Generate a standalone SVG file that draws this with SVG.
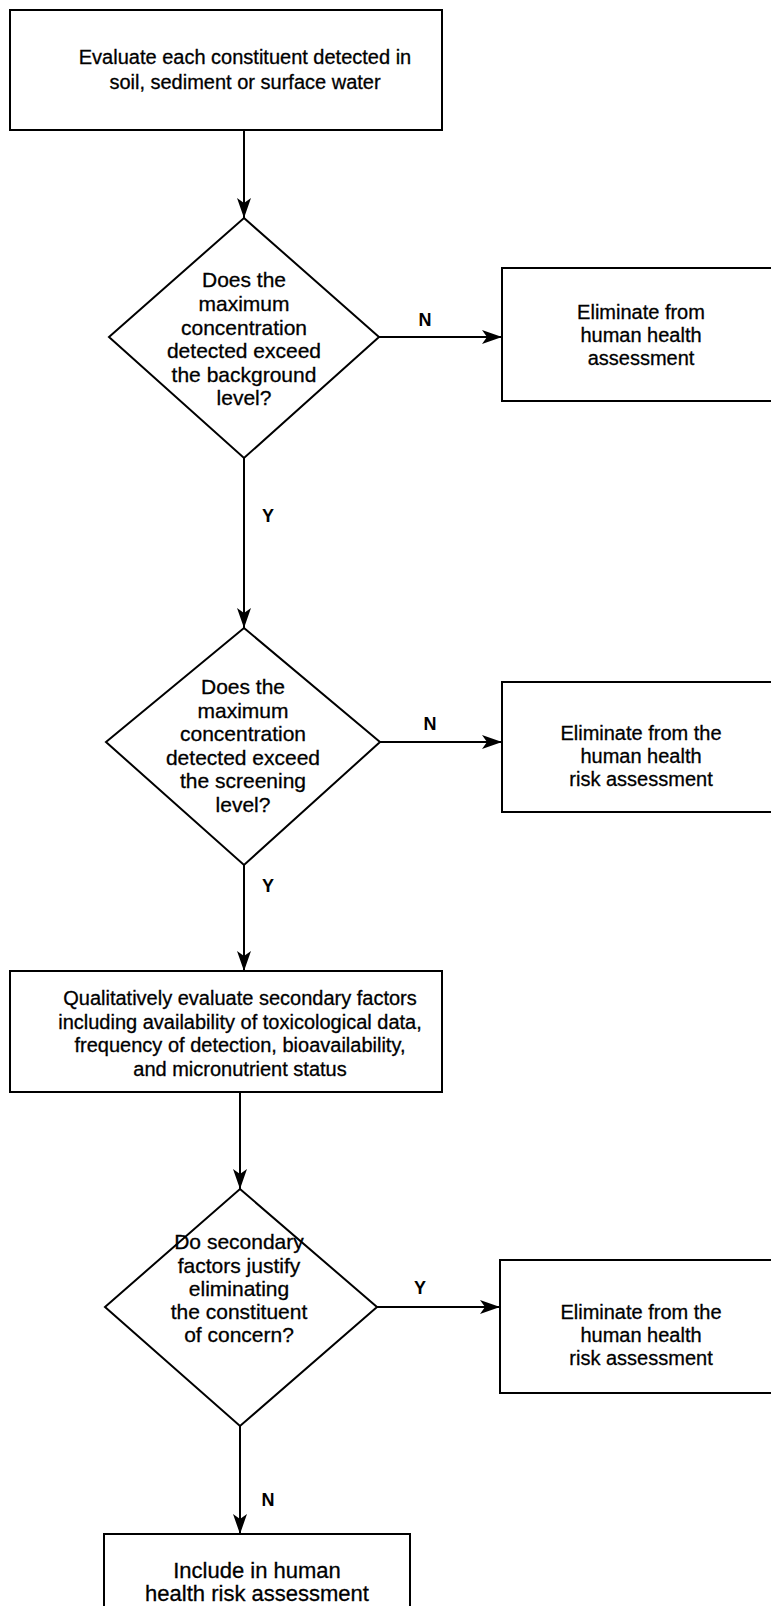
<svg xmlns="http://www.w3.org/2000/svg" width="771" height="1606" viewBox="0 0 771 1606">
<style>
.box{fill:#fff;stroke:#000;stroke-width:2}
.t{font-family:"Liberation Sans",Arial,sans-serif;font-size:20px;fill:#000;stroke:#000;stroke-width:0.3;text-anchor:middle}
.d{font-size:21px}
.lbl{font-family:"Liberation Sans",Arial,sans-serif;font-size:18px;font-weight:bold;fill:#000;text-anchor:middle}
.ln{fill:none;stroke:#000;stroke-width:2}
</style>
<defs>
<marker id="ah" markerUnits="userSpaceOnUse" markerWidth="22" markerHeight="16" refX="20" refY="8" orient="auto">
<path d="M20,8 L0,1 L5,8 L0,15 Z" fill="#000"/>
</marker>
</defs>
<rect width="771" height="1606" fill="#fff"/>
<g id="connectors">
<line class="ln" x1="244" y1="130" x2="244" y2="218" marker-end="url(#ah)"/>
<line class="ln" x1="379" y1="337" x2="502" y2="337" marker-end="url(#ah)"/>
<line class="ln" x1="244" y1="458" x2="244" y2="628" marker-end="url(#ah)"/>
<line class="ln" x1="380" y1="742" x2="502" y2="742" marker-end="url(#ah)"/>
<line class="ln" x1="244" y1="865" x2="244" y2="971" marker-end="url(#ah)"/>
<line class="ln" x1="240" y1="1092" x2="240" y2="1189" marker-end="url(#ah)"/>
<line class="ln" x1="377" y1="1307" x2="500" y2="1307" marker-end="url(#ah)"/>
<line class="ln" x1="240" y1="1426" x2="240" y2="1534" marker-end="url(#ah)"/>
<text class="lbl" x="425" y="326">N</text>
<text class="lbl" x="268" y="522">Y</text>
<text class="lbl" x="430" y="730">N</text>
<text class="lbl" x="268" y="892">Y</text>
<text class="lbl" x="420" y="1294">Y</text>
<text class="lbl" x="268" y="1506">N</text>
</g>
<g id="start">
<rect class="box" x="10" y="10" width="432" height="120"/>
<text class="t" x="245" y="64">Evaluate each constituent detected in</text>
<text class="t" x="245" y="89">soil, sediment or surface water</text>
</g>
<g id="decision1">
<polygon class="box" points="244,218 379,337 244,458 109,337"/>
<text class="t d" x="244" y="287">Does the</text>
<text class="t d" x="244" y="311">maximum</text>
<text class="t d" x="244" y="335">concentration</text>
<text class="t d" x="244" y="358">detected exceed</text>
<text class="t d" x="244" y="382">the background</text>
<text class="t d" x="244" y="405">level?</text>
</g>
<g id="eliminate1">
<path class="box" d="M771,268 H502 V401 H771"/>
<text class="t" x="641" y="319">Eliminate from</text>
<text class="t" x="641" y="342">human health</text>
<text class="t" x="641" y="365">assessment</text>
</g>
<g id="decision2">
<polygon class="box" points="244,628 380,742 244,865 106,742"/>
<text class="t d" x="243" y="694">Does the</text>
<text class="t d" x="243" y="718">maximum</text>
<text class="t d" x="243" y="741">concentration</text>
<text class="t d" x="243" y="765">detected exceed</text>
<text class="t d" x="243" y="788">the screening</text>
<text class="t d" x="243" y="812">level?</text>
</g>
<g id="eliminate2">
<path class="box" d="M771,682 H502 V812 H771"/>
<text class="t" x="641" y="740">Eliminate from the</text>
<text class="t" x="641" y="763">human health</text>
<text class="t" x="641" y="786">risk assessment</text>
</g>
<g id="secondary">
<rect class="box" x="10" y="971" width="432" height="121"/>
<text class="t" x="240" y="1005">Qualitatively evaluate secondary factors</text>
<text class="t" x="240" y="1029">including availability of toxicological data,</text>
<text class="t" x="240" y="1052">frequency of detection, bioavailability,</text>
<text class="t" x="240" y="1076">and micronutrient status</text>
</g>
<g id="decision3">
<polygon class="box" points="240,1189 377,1307 240,1426 105,1307"/>
<text class="t d" x="239" y="1249">Do secondary</text>
<text class="t d" x="239" y="1273">factors justify</text>
<text class="t d" x="239" y="1296">eliminating</text>
<text class="t d" x="239" y="1319">the constituent</text>
<text class="t d" x="239" y="1342">of concern?</text>
</g>
<g id="eliminate3">
<path class="box" d="M771,1260 H500 V1393 H771"/>
<text class="t" x="641" y="1319">Eliminate from the</text>
<text class="t" x="641" y="1342">human health</text>
<text class="t" x="641" y="1365">risk assessment</text>
</g>
<g id="include">
<path class="box" d="M104,1606 V1534 H410 V1606"/>
<text class="t" x="257" y="1578" style="font-size:22px">Include in human</text>
<text class="t" x="257" y="1601" style="font-size:22px">health risk assessment</text>
</g>
</svg>
